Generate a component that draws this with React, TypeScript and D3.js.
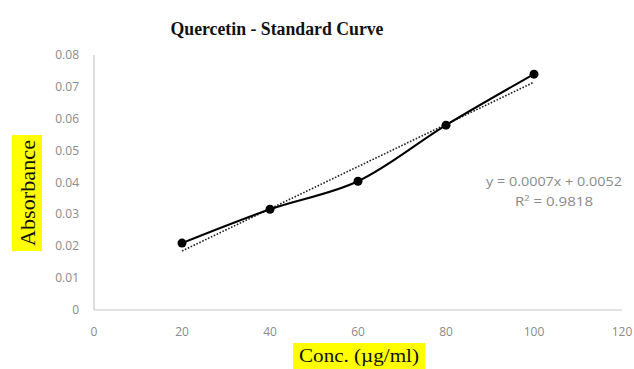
import React from "react";
import * as d3 from "d3";

const concentrations = [20, 40, 60, 80, 100];
const absorbance = [0.021, 0.0316, 0.0404, 0.058, 0.074];
const xTicks = [0, 20, 40, 60, 80, 100, 120];
const yTicks = [0, 0.01, 0.02, 0.03, 0.04, 0.05, 0.06, 0.07, 0.08];
const equationLabel = "y = 0.0007x + 0.0052";
const rSquaredLabel = "R² = 0.9818";

const W = 634;
const H = 369;
const plot = { left: 94, right: 622, top: 55, bottom: 310 };

export default function App() {
  const x = d3.scaleLinear().domain([0, 120]).range([plot.left, plot.right]);
  const y = d3.scaleLinear().domain([0, 0.08]).range([plot.bottom, plot.top]);

  const pts: [number, number][] = concentrations.map((c, i) => [c, absorbance[i]]);

  // least-squares linear trendline
  const mx = d3.mean(concentrations) as number;
  const my = d3.mean(absorbance) as number;
  const sxy = d3.sum(pts, (p) => (p[0] - mx) * (p[1] - my));
  const sxx = d3.sum(concentrations, (c) => (c - mx) ** 2);
  const slope = sxy / sxx;
  const intercept = my - slope * mx;
  const xMin = d3.min(concentrations) as number;
  const xMax = d3.max(concentrations) as number;

  const smoothLine = d3
    .line<[number, number]>()
    .x((d) => x(d[0]))
    .y((d) => y(d[1]))
    .curve(d3.curveCatmullRom.alpha(0.5));

  const tickFont = "'Open Sans', 'Liberation Sans', sans-serif";
  const serif = "'Liberation Serif', 'DejaVu Serif', serif";

  return (
    <svg
      width={W}
      height={H}
      style={{ position: "absolute", left: 0, top: 0, background: "#fff" }}
    >
      <rect x={0} y={0} width={W} height={H} fill="#fff" />

      {/* title */}
      <text
        x={277}
        y={35}
        textAnchor="middle"
        fontFamily={serif}
        fontWeight="bold"
        fontSize={18.5}
        fill="#111"
        textLength={213}
        lengthAdjust="spacingAndGlyphs"
      >
        Quercetin - Standard Curve
      </text>

      {/* axes */}
      <line x1={plot.left} x2={plot.left} y1={plot.top} y2={plot.bottom} stroke="#c8c8c8" strokeWidth={1.2} />
      <line x1={plot.left} x2={plot.right} y1={plot.bottom} y2={plot.bottom} stroke="#c8c8c8" strokeWidth={1.2} />

      {yTicks.map((t) => (
        <text
          key={"y" + t}
          x={79}
          y={y(t) + 4}
          textAnchor="end"
          fontFamily={tickFont}
          fontSize={12}
          fill="#8a8a8a"
        >
          {t === 0 ? "0" : t.toFixed(2)}
        </text>
      ))}
      {xTicks.map((t) => (
        <text
          key={"x" + t}
          x={x(t)}
          y={336}
          textAnchor="middle"
          fontFamily={tickFont}
          fontSize={12}
          fill="#8a8a8a"
        >
          {t}
        </text>
      ))}

      {/* trendline */}
      <line
        x1={x(xMin)}
        y1={y(slope * xMin + intercept)}
        x2={x(xMax)}
        y2={y(slope * xMax + intercept)}
        stroke="#222"
        strokeWidth={1.6}
        strokeDasharray="1.6,1.6"
      />

      {/* data series */}
      <path d={smoothLine(pts) ?? ""} fill="none" stroke="#000" strokeWidth={2} />
      {pts.map((p, i) => (
        <circle key={i} cx={x(p[0])} cy={y(p[1])} r={4.5} fill="#000" />
      ))}

      {/* regression label */}
      <text
        x={554}
        y={186}
        textAnchor="middle"
        fontFamily={tickFont}
        fontSize={12}
        fill="#8a8a8a"
        textLength={136}
        lengthAdjust="spacingAndGlyphs"
      >
        {equationLabel}
      </text>
      <text
        x={554}
        y={206}
        textAnchor="middle"
        fontFamily={tickFont}
        fontSize={12}
        fill="#8a8a8a"
        textLength={78}
        lengthAdjust="spacingAndGlyphs"
      >
        {rSquaredLabel}
      </text>

      {/* y axis title */}
      <rect x={12} y={135} width={30} height={116} fill="#ffff00" />
      <text
        transform="translate(35,193) rotate(-90)"
        textAnchor="middle"
        fontFamily={serif}
        fontSize={21}
        fill="#111"
        textLength={106}
        lengthAdjust="spacingAndGlyphs"
      >
        Absorbance
      </text>

      {/* x axis title */}
      <rect x={293} y={343} width={132} height={26} fill="#ffff00" />
      <text
        x={359}
        y={362}
        textAnchor="middle"
        fontFamily={serif}
        fontSize={19}
        fill="#111"
        textLength={120}
        lengthAdjust="spacingAndGlyphs"
      >
        Conc. (µg/ml)
      </text>
    </svg>
  );
}
